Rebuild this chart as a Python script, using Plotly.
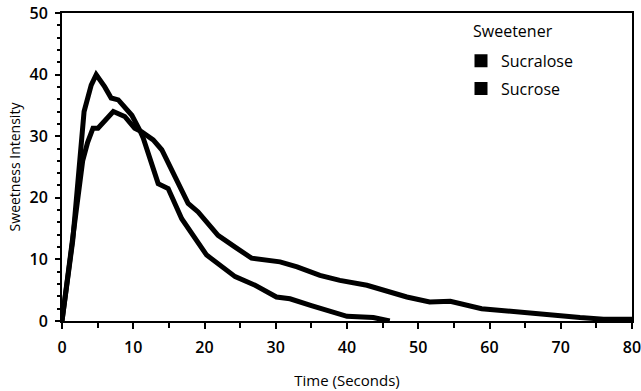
import plotly.graph_objects as go

# Sucralose (lower peak, long lingering tail)
sucralose_t = [0, 1.5, 2.9, 3.6, 4.35, 5.05, 6.0, 7.2, 8.8, 10.2, 11.2, 12.8, 14.0, 15.2, 16.1, 17.7,
               19.1, 21.9, 24.3, 26.6, 30.6, 33.0, 36.2, 39.0, 42.8, 45.5, 48.4, 51.6, 54.5, 58.9,
               63.3, 68.0, 72.7, 76.0, 80.0]
sucralose_v = [0, 13, 26, 29, 31.3, 31.3, 32.6, 34.0, 33.2, 31.3, 30.7, 29.4, 27.8, 25.0, 22.6, 19.1,
               17.7, 13.9, 12.0, 10.2, 9.6, 8.8, 7.4, 6.6, 5.8, 4.8, 3.9, 3.1, 3.2, 2.0,
               1.5, 0.9, 0.55, 0.3, 0.3]

# Sucrose (higher, faster peak, shorter tail)
sucrose_t = [0, 1.5, 2.25, 3.1, 4.1, 4.8, 6.0, 6.9, 7.9, 9.8, 10.9, 11.4, 13.5, 14.9, 16.8, 20.3,
             24.3, 27.1, 30.1, 32.0, 35.0, 40.0, 43.7, 46.0]
sucrose_v = [0, 13, 22.8, 34.0, 38.3, 40.0, 38.0, 36.2, 35.9, 33.4, 31.0, 29.7, 22.3, 21.5, 16.6, 10.7,
             7.2, 5.8, 3.9, 3.6, 2.5, 0.76, 0.55, 0.0]

series_names = ["Sucralose", "Sucrose"]
legend_title = "Sweetener"
x_ticks = [0, 10, 20, 30, 40, 50, 60, 70, 80]
y_ticks = [0, 10, 20, 30, 40, 50]

FONT = "Open Sans"

fig = go.Figure()
fig.add_trace(go.Scatter(x=sucralose_t, y=sucralose_v, mode="lines",
                         line=dict(color="black", width=5), showlegend=False, name=series_names[0]))
fig.add_trace(go.Scatter(x=sucrose_t, y=sucrose_v, mode="lines",
                         line=dict(color="black", width=5), showlegend=False, name=series_names[1]))
# legend entries shown as black squares
for i, nm in enumerate(series_names):
    fig.add_trace(go.Scatter(x=[None], y=[None], mode="markers", name=nm,
                             legendgroup=f"g{i}",
                             marker=dict(symbol="square", size=13, color="black")))

fig.add_annotation(text=legend_title, xref="paper", yref="paper", x=0.718, y=0.94,
                   xanchor="left", yanchor="middle", showarrow=False,
                   font=dict(family=FONT, size=16, color="black"))

fig.update_layout(
    width=641, height=391,
    margin=dict(l=62, r=9, t=13, b=70),
    paper_bgcolor="white", plot_bgcolor="white",
    font=dict(family=FONT, color="black", size=15),
    legend=dict(
        x=0.70, y=0.90, xanchor="left", yanchor="top",
        font=dict(size=16),
        bgcolor="rgba(0,0,0,0)",
        tracegroupgap=4,
        itemwidth=30,
    ),
    xaxis=dict(
        range=[0, 80], tickvals=x_ticks, ticks="outside", ticklen=6, tickwidth=1.5,
        tickcolor="black", showgrid=False, zeroline=False, automargin=False,
        ticklabeloverflow="allow",
        showline=True, linecolor="black", linewidth=2, mirror=True,
        minor=dict(dtick=5, ticks="outside", ticklen=5, tickwidth=1.5, tickcolor="black"),
        title=dict(text="Time (Seconds)", font=dict(size=15), standoff=18),
        tickfont=dict(size=16, weight=600), ticklabelstandoff=5,
    ),
    yaxis=dict(
        range=[0, 50], tickvals=y_ticks, ticks="outside", ticklen=5, tickwidth=1.5,
        tickcolor="black", showgrid=False, zeroline=False, automargin=False,
        ticklabeloverflow="allow",
        showline=True, linecolor="black", linewidth=2, mirror=True,
        minor=dict(dtick=2, ticks="outside", ticklen=3, tickwidth=1.5, tickcolor="black"),
        title=dict(text="Sweetness Intensity", font=dict(size=14), standoff=6),
        tickfont=dict(size=16, weight=600), ticklabelstandoff=4,
    ),
)

fig.write_html("out.html")
